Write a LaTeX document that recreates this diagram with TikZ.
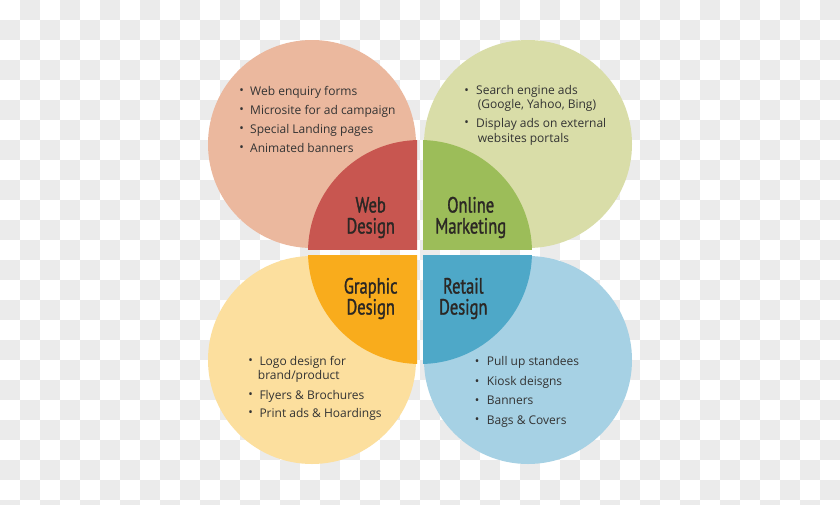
\documentclass[tikz,border=0pt]{standalone}
\usepackage{fontspec}
\setmainfont{Open Sans}
\newfontfamily\titlefont[FakeStretch=0.75,FakeBold=1.3]{PT Sans}
\definecolor{checker}{HTML}{EBEBEB}
\definecolor{tlbig}{HTML}{EBB89E}
\definecolor{tlin}{HTML}{C85650}
\definecolor{trbig}{HTML}{D9DDA8}
\definecolor{trin}{HTML}{9CBD59}
\definecolor{blbig}{HTML}{FCDF9E}
\definecolor{blin}{HTML}{F9AC1C}
\definecolor{brbig}{HTML}{A6D1E4}
\definecolor{brin}{HTML}{4EA8C8}
\definecolor{txt}{HTML}{333333}
\definecolor{ttl}{HTML}{2B2724}
\tikzset{
  itemtext/.style={anchor=base west, inner sep=0pt, text=txt, font=\fontsize{12}{13}\selectfont},
  bul/.style={anchor=center, inner sep=0pt, text=txt, font=\fontsize{12}{12}\selectfont},
  ttltext/.style={anchor=base, inner sep=0pt, text=ttl, font=\titlefont\fontsize{22}{22}\selectfont},
}
\begin{document}
\begin{tikzpicture}[x=1pt,y=-1pt]
\useasboundingbox (0,0) rectangle (840,504);
% transparency checkerboard background
\begin{scope}
\clip (0,0) rectangle (840,504);
\fill[white] (0,0) rectangle (840,504);
\foreach \j in {0,...,25}{
  \pgfmathtruncatemacro\s{mod(\j+1,2)}
  \pgfmathtruncatemacro\t{\s+2}
  \foreach \i in {\s,\t,...,41}{
    \fill[checker] (\i*20,\j*20) rectangle ++(20,20);
  }
}
\end{scope}
% quadrants
\begin{scope}
\clip (0,0) rectangle (417,249);
\fill[tlbig] (312,144) circle[radius=104];
\fill[tlin] (420,252) circle[radius=112];
\end{scope}
\begin{scope}
\clip (423,0) rectangle (840,249);
\fill[trbig] (528,144) circle[radius=104];
\fill[trin] (420,252) circle[radius=112];
\end{scope}
\begin{scope}
\clip (0,255) rectangle (417,504);
\fill[blbig] (312,360) circle[radius=104];
\fill[blin] (420,252) circle[radius=112];
\end{scope}
\begin{scope}
\clip (423,255) rectangle (840,504);
\fill[brbig] (528,360) circle[radius=104];
\fill[brin] (420,252) circle[radius=112];
\end{scope}
% titles
\node[ttltext] (t-web1) at (370.7,212.5) {Web};
\node[ttltext] (t-web2) at (370.7,233.5) {Design};
\node[ttltext] (t-onl1) at (470.7,212.5) {Online};
\node[ttltext] (t-onl2) at (470.7,233.5) {Marketing};
\node[ttltext] (t-gra1) at (370.7,293.5) {Graphic};
\node[ttltext] (t-gra2) at (370.7,314.5) {Design};
\node[ttltext] (t-ret1) at (463.3,293.5) {Retail};
\node[ttltext] (t-ret2) at (463.3,314.5) {Design};
% top left list
\node[bul] (b-tl1) at (241.7,91.5) {•};
\node[itemtext] (tl1) at (250,95) {Web enquiry forms};
\node[bul] (b-tl2) at (241.7,110.5) {•};
\node[itemtext] (tl2) at (250,114) {Microsite for ad campaign};
\node[bul] (b-tl3) at (241.7,129.5) {•};
\node[itemtext] (tl3) at (250,133) {Special Landing pages};
\node[bul] (b-tl4) at (241.7,149) {•};
\node[itemtext] (tl4) at (250,152.5) {Animated banners};
% top right list
\node[bul] (b-tr1) at (466.7,91.5) {•};
\node[itemtext] (tr1) at (476,94.7) {Search engine ads};
\node[itemtext] (tr1b) at (477.7,108.3) {(Google, Yahoo, Bing)};
\node[bul] (b-tr2) at (466.7,124) {•};
\node[itemtext] (tr2) at (476,127.3) {Display ads on external};
\node[itemtext] (tr2b) at (477.7,142.3) {websites portals};
% bottom left list
\node[bul] (b-bl1) at (250.7,361.5) {•};
\node[itemtext] (bl1) at (259.3,365) {Logo design for};
\node[itemtext] (bl1b) at (257.7,379) {brand/product};
\node[bul] (b-bl2) at (250.7,395.5) {•};
\node[itemtext] (bl2) at (259.3,399) {Flyers \& Brochures};
\node[bul] (b-bl3) at (250.7,413.5) {•};
\node[itemtext] (bl3) at (259.3,417) {Print ads \& Hoardings};
% bottom right list
\node[bul] (b-br1) at (477,362.2) {•};
\node[itemtext] (br1) at (486.7,365.7) {Pull up standees};
\node[bul] (b-br2) at (477,382.2) {•};
\node[itemtext] (br2) at (486.7,385.7) {Kiosk deisgns};
\node[bul] (b-br3) at (477,401.2) {•};
\node[itemtext] (br3) at (486.7,404.7) {Banners};
\node[bul] (b-br4) at (477,420.5) {•};
\node[itemtext] (br4) at (486.7,424) {Bags \& Covers};
\end{tikzpicture}
\end{document}
